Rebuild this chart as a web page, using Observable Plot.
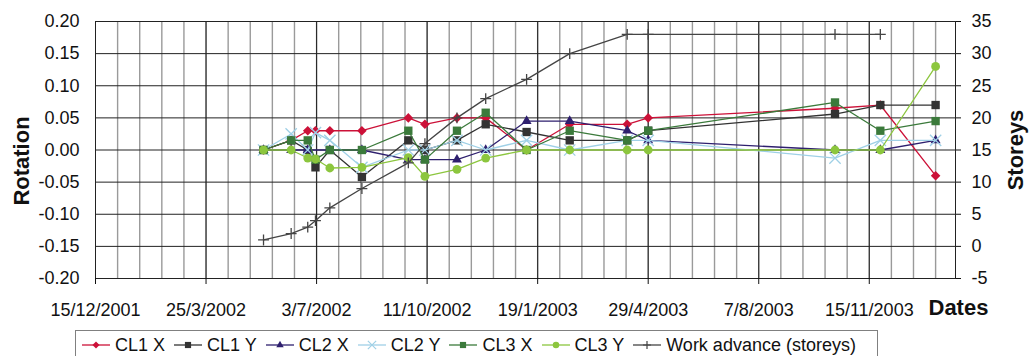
<!DOCTYPE html>
<html><head><meta charset="utf-8">
<script src="https://cdn.jsdelivr.net/npm/d3@7"></script>
<script src="https://cdn.jsdelivr.net/npm/@observablehq/plot@0.6"></script>
<style>
body{margin:0;background:#fff;font-family:"Liberation Sans",Arial,sans-serif;}
#wrap{position:relative;width:1029px;height:356px;overflow:hidden;}
#legend{position:absolute;left:75px;top:330px;width:803px;height:40px;border:1px solid #808080;display:flex;align-items:flex-start;padding-top:4px;padding-left:6px;box-sizing:border-box;font-size:18px;color:#111;}
.item{display:flex;align-items:center;margin-right:9px;line-height:20px;white-space:nowrap;}
.item svg{margin-right:5px;}
</style></head><body><div id="wrap"></div>
<script>
// ---- data ----
const dates = ["2002-05-16","2002-06-10","2002-06-25","2002-07-02","2002-07-15","2002-08-13","2002-09-24","2002-10-09","2002-11-07","2002-12-03","2003-01-09","2003-02-17","2003-04-10","2003-04-29","2003-10-15","2003-11-25","2004-01-14"];
const cl1x = [0, 0.015, 0.03, 0.03, 0.03, 0.03, 0.05, 0.04, 0.05, 0.05, 0, 0.04, 0.04, 0.05, 0.065, 0.07, -0.04];
const cl1y = [0, 0.015, 0, -0.027, 0, -0.042, 0.015, 0, 0.015, 0.04, 0.028, 0.015, 0.015, 0.03, 0.056, 0.07, 0.07];
const cl2x = [0, 0, 0, null, 0, 0, -0.015, -0.015, -0.015, 0, 0.045, 0.045, 0.03, 0.015, 0, 0, 0.015];
const cl2y = [0, 0.025, 0, 0.027, 0.015, -0.027, 0, 0, 0.015, 0, 0.015, 0, 0.015, 0.015, -0.0125, 0.015, 0.015];
const cl3x = [0, 0.015, 0.015, -0.015, 0, 0, 0.03, -0.015, 0.03, 0.058, 0, 0.03, 0.015, 0.03, 0.074, 0.03, 0.045];
const cl3y = [0, 0, -0.0125, -0.014, -0.028, -0.027, -0.012, -0.041, -0.03, -0.0125, 0, 0, 0, 0, 0, 0, 0.13];
const storeys = [1, 2, 3, 4, 6, 9, 13, 16, 20, 23, 26, 30, 33, 33, 33, 33, null];
const seriesNames = ["CL1 X","CL1 Y","CL2 X","CL2 Y","CL3 X","CL3 Y","Work advance (storeys)"];
const rotationTicks = [-0.20,-0.15,-0.10,-0.05,0,0.05,0.10,0.15,0.20];
const storeyTicks = [-5,0,5,10,15,20,25,30,35];
const dateTicks = ["2001-12-15","2002-03-25","2002-07-03","2002-10-11","2003-01-19","2003-04-29","2003-08-07","2003-11-15"];
const xStart = "2001-12-15", xEnd = "2004-02-01";

// ---- build ----
const parse = d3.utcParse("%Y-%m-%d");
const DAY = 86400000;
const t0 = parse(xStart);
const toRot = s => (s - 15) / 100; // storeys axis -5..35 shares the rotation axis -0.2..0.2
const styles = [
  {color:"#cc1138", symbol:"diamond2", r:4.3, filled:true},
  {color:"#333333", symbol:"square", r:4.7, filled:true},
  {color:"#2e1f6e", symbol:"triangle", r:3.7, filled:true},
  {color:"#9fd0e6", symbol:"times", r:5.2, filled:false},
  {color:"#3b7a3b", symbol:"square", r:4.7, filled:true},
  {color:"#8cc63e", symbol:"circle", r:4.4, filled:true},
  {color:"#444444", symbol:"plus", r:3.6, filled:false}
];
const valueSets = [cl1x, cl1y, cl2x, cl2y, cl3x, cl3y, storeys.map(s => s == null ? null : toRot(s))];
const rows = valueSets.map((vals, k) => dates.map((d, i) => ({date: parse(d), v: vals[i], s: seriesNames[k]})).filter(r => r.v != null));

const minorDays = d3.range(20, 780, 20).map(n => new Date(t0.getTime() + n * DAY));
const majorDates = dateTicks.map(parse);

const marks = [
  Plot.ruleX(minorDays, {stroke:"#9a9a9a", strokeWidth:1.4}),
  Plot.ruleX(majorDates, {stroke:"#222", strokeWidth:1}),
  Plot.ruleY(rotationTicks, {stroke:"#222", strokeWidth:1}),
  Plot.frame({stroke:"#222"}),
  Plot.axisY({ticks: rotationTicks, tickFormat: d => d.toFixed(2), tickSize: 0, tickPadding: 16, label: null, fontSize: 18}),
  Plot.axisY({anchor:"right", ticks: storeyTicks.map(toRot), tickFormat: d => String(Math.round(d * 100 + 15)), tickSize: 5, tickPadding: 11, label: null, fontSize: 18}),
  Plot.axisX({ticks: majorDates, tickFormat: d3.utcFormat("%-d/%-m/%Y"), tickSize: 6, tickPadding: 19, label: null, fontSize: 18})
];
rows.forEach((r, k) => {
  const st = styles[k];
  marks.push(Plot.line(r, {x:"date", y:"v", stroke: st.color, strokeWidth: 1.3}));
  marks.push(Plot.dot(r, st.filled
    ? {x:"date", y:"v", symbol: st.symbol, r: st.r, fill: st.color, stroke: "none"}
    : {x:"date", y:"v", symbol: st.symbol, r: st.r, stroke: st.color, strokeWidth: 1.3, fill: "none"}));
});
marks.push(Plot.text(["Rotation"], {frameAnchor:"left", textAnchor:"middle", lineAnchor:"middle", rotate:-90, dx:-74, dy:11, fontWeight:"bold", fontSize:22}));
marks.push(Plot.text(["Storeys"], {frameAnchor:"right", textAnchor:"middle", lineAnchor:"middle", rotate:-90, dx:60, dy:0, fontWeight:"bold", fontSize:22}));
marks.push(Plot.text(["Dates"], {frameAnchor:"bottom-right", textAnchor:"start", dx:-27, dy:36, fontWeight:"bold", fontSize:22}));

const chart = Plot.plot({
  width: 1029, height: 330,
  marginLeft: 95, marginRight: 74, marginTop: 21, marginBottom: 52,
  style: {fontFamily: "'Liberation Sans', Arial, sans-serif", fontSize: "18px", color: "#111", background: "#fff"},
  x: {type: "utc", domain: [t0, parse(xEnd)]},
  y: {domain: [-0.2, 0.2]},
  marks
});
const wrap = document.getElementById("wrap");
wrap.appendChild(chart);

// legend (HTML, below the SVG)
const legend = document.createElement("div");
legend.id = "legend";
seriesNames.forEach((name, k) => {
  const st = styles[k];
  const item = document.createElement("div");
  item.className = "item";
  const svg = d3.create("svg").attr("width", 28).attr("height", 20);
  svg.append("line").attr("x1", 0).attr("x2", 28).attr("y1", 10).attr("y2", 10).attr("stroke", st.color).attr("stroke-width", 1.3);
  const symMap = {diamond2: d3.symbolDiamond2, square: d3.symbolSquare, triangle: d3.symbolTriangle, times: d3.symbolTimes, circle: d3.symbolCircle, plus: d3.symbolPlus};
  const size = Math.PI * st.r * st.r * 0.55;
  svg.append("path").attr("transform", "translate(14,10)").attr("d", d3.symbol(symMap[st.symbol], size)())
    .attr("fill", st.filled ? st.color : "none").attr("stroke", st.filled ? "none" : st.color).attr("stroke-width", 1.2);
  item.appendChild(svg.node());
  const span = document.createElement("span");
  span.textContent = name;
  item.appendChild(span);
  legend.appendChild(item);
});
wrap.appendChild(legend);
</script></body></html>
